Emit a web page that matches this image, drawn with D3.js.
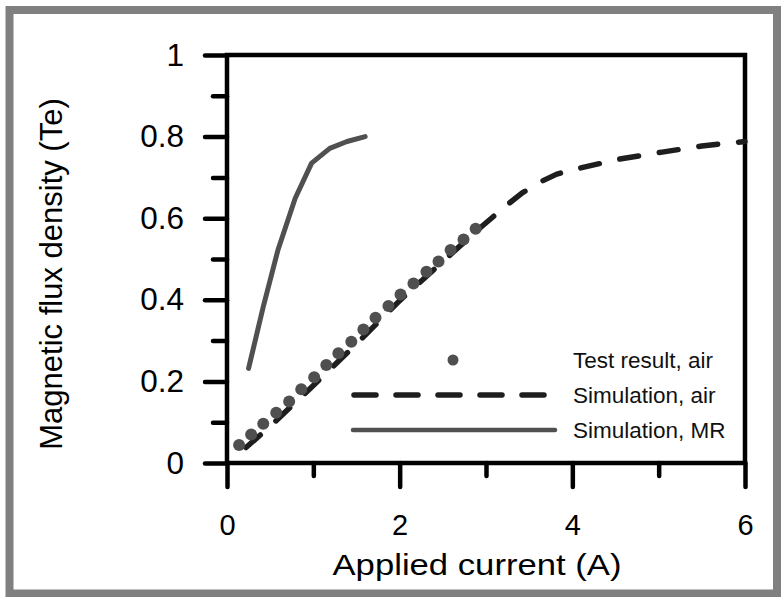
<!DOCTYPE html>
<html>
<head>
<meta charset="utf-8">
<script src="https://cdn.jsdelivr.net/npm/d3@7/dist/d3.min.js"></script>
<style>
  html, body { margin: 0; padding: 0; background: #fff; }
  svg { display: block; font-family: "Liberation Sans", Arial, Helvetica, sans-serif; }
</style>
</head>
<body>
<svg id="chart" width="781" height="597"></svg>
<script>
// Measured B-field in air (test points)
const testAirX = [0.14, 0.28, 0.42, 0.57, 0.72, 0.86, 1.01, 1.15, 1.29, 1.44,
                  1.58, 1.72, 1.87, 2.01, 2.16, 2.31, 2.45, 2.59, 2.74, 2.88];
const testAirY = [0.044, 0.070, 0.096, 0.123, 0.151, 0.181, 0.210, 0.240, 0.269, 0.297,
                  0.327, 0.356, 0.385, 0.413, 0.440, 0.469, 0.494, 0.522, 0.548, 0.574];

// Simulated B-field in air
const simAirX = [0.22, 0.5, 1.0, 1.5, 2.0, 2.5, 2.93, 3.24, 3.42, 3.63, 3.82, 4.07, 4.55, 5.04, 5.5, 6.0];
const simAirY = [0.038, 0.09, 0.19, 0.292, 0.398, 0.494, 0.576, 0.632, 0.662, 0.689, 0.708, 0.722, 0.745, 0.762, 0.777, 0.788];

// Simulated B-field with MR fluid
const simMRX = [0.25, 0.42, 0.59, 0.79, 0.98, 1.19, 1.39, 1.60];
const simMRY = [0.232, 0.383, 0.522, 0.649, 0.735, 0.771, 0.788, 0.800];

// Axis ticks
const xMajorTicks = [0, 2, 4, 6];
const xMinorTicks = [1, 3, 5];
const yMajorTicks = [0, 0.2, 0.4, 0.6, 0.8, 1];
const yMinorTicks = [0.1, 0.3, 0.5, 0.7, 0.9];
const yTickLabels = ["0", "0.2", "0.4", "0.6", "0.8", "1"];

const legendLabels = ["Test result, air", "Simulation, air", "Simulation, MR"];

const svg = d3.select("#chart");

// outer grey frame
svg.append("rect")
  .attr("x", 9.5).attr("y", 10).attr("width", 767.5).attr("height", 583.5)
  .attr("fill", "#fff").attr("stroke", "#808080").attr("stroke-width", 8);

const plot = { left: 227, right: 745, top: 55, bottom: 463 };

const x = d3.scaleLinear().domain([0, 6]).range([plot.left, plot.right]);
const y = d3.scaleLinear().domain([0, 1]).range([plot.bottom, plot.top]);

const axisW = 4.5;

// left axis: major + minor ticks
const gyMaj = svg.append("g").attr("transform", `translate(${plot.left},0)`)
  .call(d3.axisLeft(y).tickValues(yMajorTicks).tickSize(22).tickSizeOuter(0)
    .tickPadding(21).tickFormat((d, i) => yTickLabels[i]));
const gyMin = svg.append("g").attr("transform", `translate(${plot.left},0)`)
  .call(d3.axisLeft(y).tickValues(yMinorTicks).tickSize(14).tickSizeOuter(0).tickFormat(""));

// bottom axis: major + minor ticks
const gxMaj = svg.append("g").attr("transform", `translate(0,${plot.bottom})`)
  .call(d3.axisBottom(x).tickValues(xMajorTicks).tickSize(24).tickSizeOuter(0)
    .tickPadding(38).tickFormat(d3.format("d")));
const gxMin = svg.append("g").attr("transform", `translate(0,${plot.bottom})`)
  .call(d3.axisBottom(x).tickValues(xMinorTicks).tickSize(13).tickSizeOuter(0).tickFormat(""));

[gyMaj, gyMin, gxMaj, gxMin].forEach(g => {
  g.select(".domain").remove();
  g.selectAll(".tick line").attr("stroke", "#000").attr("stroke-width", axisW)
    .attr("stroke-linecap", "round");
  g.selectAll(".tick text").attr("fill", "#000").attr("font-size", 31.5)
    .attr("font-family", "'Liberation Sans', Arial, sans-serif");
});
gxMaj.selectAll(".tick text").attr("font-size", 29).attr("dy", "0.35em");

// plot box
svg.append("rect")
  .attr("x", plot.left).attr("y", plot.top)
  .attr("width", plot.right - plot.left).attr("height", plot.bottom - plot.top)
  .attr("fill", "none").attr("stroke", "#000").attr("stroke-width", axisW);

// axis titles
svg.append("text")
  .attr("x", 477).attr("y", 575)
  .attr("text-anchor", "middle").attr("font-size", 30)
  .attr("textLength", 289).attr("lengthAdjust", "spacingAndGlyphs")
  .attr("fill", "#000")
  .text("Applied current (A)");

svg.append("text")
  .attr("transform", "translate(62,274) rotate(-90)")
  .attr("text-anchor", "middle").attr("font-size", 31)
  .attr("fill", "#000")
  .text("Magnetic flux density (Te)");

const line = d3.line().x(d => x(d[0])).y(d => y(d[1]));

// simulation, air (dashed)
svg.append("path")
  .datum(simAirX.map((v, i) => [v, simAirY[i]]))
  .attr("d", line.curve(d3.curveLinear))
  .attr("fill", "none").attr("stroke", "#1e1e1e").attr("stroke-width", 5.5)
  .attr("stroke-dasharray", "19,21").attr("stroke-linecap", "round")
  .attr("stroke-linejoin", "round");

// simulation, MR (solid)
svg.append("path")
  .datum(simMRX.map((v, i) => [v, simMRY[i]]))
  .attr("d", line.curve(d3.curveLinear))
  .attr("fill", "none").attr("stroke", "#505050").attr("stroke-width", 5)
  .attr("stroke-linecap", "round").attr("stroke-linejoin", "round");

// test points
svg.append("g").selectAll("circle")
  .data(testAirX.map((v, i) => [v, testAirY[i]]))
  .join("circle")
  .attr("cx", d => x(d[0])).attr("cy", d => y(d[1])).attr("r", 6)
  .attr("fill", "#4f4f4f");

// legend
const lg = svg.append("g");
const legY = [360, 395, 430];
lg.append("circle").attr("cx", 453).attr("cy", legY[0]).attr("r", 5.5).attr("fill", "#4f4f4f");
lg.append("line").attr("x1", 354).attr("x2", 545).attr("y1", legY[1]).attr("y2", legY[1])
  .attr("stroke", "#1e1e1e").attr("stroke-width", 5.5)
  .attr("stroke-dasharray", "22,20").attr("stroke-linecap", "round");
lg.append("line").attr("x1", 353).attr("x2", 555).attr("y1", legY[2]).attr("y2", legY[2])
  .attr("stroke", "#505050").attr("stroke-width", 4.5).attr("stroke-linecap", "round");
lg.selectAll("text").data(legendLabels).join("text")
  .attr("x", 573).attr("y", (d, i) => legY[i]).attr("dy", "0.35em")
  .attr("font-size", 22.5).attr("fill", "#111")
  .text(d => d);
</script>
</body>
</html>
